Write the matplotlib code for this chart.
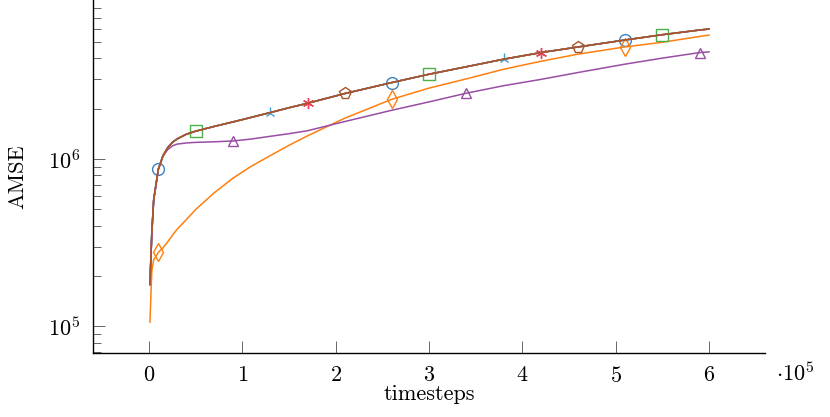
import numpy as np
import matplotlib
matplotlib.use("Agg")
import matplotlib.pyplot as plt
from matplotlib.ticker import FixedLocator, FuncFormatter, LogLocator, NullFormatter

plt.rcParams['font.family'] = 'serif'
plt.rcParams['font.serif'] = ['cmr10', 'DejaVu Serif']
plt.rcParams['mathtext.fontset'] = 'cm'
plt.rcParams['axes.formatter.use_mathtext'] = True
plt.rcParams['font.size'] = 16

timesteps = [1000, 3000, 5000, 10000, 15000, 20000, 25000, 30000, 40000, 50000,
             70000, 90000, 110000, 130000, 150000, 170000, 210000, 260000,
             300000, 340000, 380000, 420000, 460000, 510000, 550000, 590000, 600000]

# the five runs that lie on top of each other
amse_main = [1.78e5, 3.6e5, 5.7e5, 8.7e5, 1.05e6, 1.17e6, 1.26e6, 1.32e6, 1.41e6, 1.47e6,
             1.57e6, 1.67e6, 1.78e6, 1.90e6, 2.03e6, 2.16e6, 2.47e6, 2.87e6,
             3.22e6, 3.57e6, 3.96e6, 4.34e6, 4.69e6, 5.16e6, 5.55e6, 5.92e6, 6.0e6]
amse_triangle = [1.78e5, 3.6e5, 5.7e5, 8.7e5, 1.04e6, 1.14e6, 1.2e6, 1.23e6, 1.25e6, 1.26e6,
                 1.27e6, 1.285e6, 1.32e6, 1.37e6, 1.42e6, 1.48e6, 1.68e6, 1.96e6,
                 2.2e6, 2.48e6, 2.75e6, 3.0e6, 3.3e6, 3.7e6, 4.02e6, 4.34e6, 4.38e6]
amse_diamond = [1.06e5, 2.15e5, 2.5e5, 2.77e5, 2.95e5, 3.2e5, 3.5e5, 3.8e5, 4.35e5, 5.0e5,
                6.3e5, 7.7e5, 9.1e5, 1.05e6, 1.21e6, 1.38e6, 1.76e6, 2.28e6,
                2.66e6, 3.02e6, 3.45e6, 3.85e6, 4.25e6, 4.69e6, 5.0e6, 5.42e6, 5.52e6]

# where each series puts its marks
circle_marks = [10000, 260000, 510000]
diamond_marks = [10000, 260000, 510000]
square_marks = [50000, 300000, 550000]
tri_marks = [130000, 380000]
star_marks = [170000, 420000]
pentagon_marks = [210000, 460000]
triangle_marks = [90000, 340000, 590000]

series = [
    (amse_main, '#3f7fbf', 'o', 8.5, circle_marks),
    (amse_diamond, '#ff7f0e', 'd', 8.8, diamond_marks),
    (amse_main, '#4daf4a', 's', 8.3, square_marks),
    (amse_triangle, '#984ea3', '^', 7.5, triangle_marks),
    (amse_main, '#3aa3d6', '2', 8.0, tri_marks),
    (amse_main, '#e8435a', (6, 2, 0), 8.0, star_marks),
    (amse_main, '#a65628', 'p', 8.5, pentagon_marks),
]

fig = plt.figure(figsize=(8.3, 4.17), dpi=100)
ax = fig.add_axes([93 / 830, 1 - 353 / 417, 672 / 830, 353 / 417])

for values, color, marker, ms, marks in series:
    idx = [timesteps.index(m) for m in marks]
    ax.plot(timesteps, values, color=color, lw=1.1, marker=marker, ms=ms,
            mfc='none', mec=color, mew=1.0, markevery=idx)

ax.set_yscale('log')
ax.set_xlim(-60000, 660000)
ax.set_ylim(6.93e4, 8.95e6)

ax.spines['top'].set_visible(False)
ax.spines['right'].set_visible(False)
ax.spines['left'].set_linewidth(1.0)
ax.spines['bottom'].set_linewidth(1.0)

ax.xaxis.set_major_locator(FixedLocator([0, 100000, 200000, 300000, 400000, 500000, 600000]))
ax.xaxis.set_major_formatter(FuncFormatter(lambda v, p: f'${v / 1e5:g}$'))
ax.yaxis.set_major_locator(LogLocator(base=10))
ax.yaxis.set_minor_locator(LogLocator(base=10, subs=np.arange(2, 10)))
ax.yaxis.set_minor_formatter(NullFormatter())

ax.tick_params(axis='x', which='major', direction='in', length=8.3, width=0.7,
               color='0.4', pad=9)
ax.tick_params(axis='y', which='major', direction='in', length=8.6, width=0.7,
               color='0.4', pad=9)
ax.tick_params(axis='y', which='minor', direction='in', length=5.8, width=0.7,
               color='0.4')

ax.set_xlabel('timesteps')
ax.xaxis.set_label_coords(0.5, -0.09)
ax.set_ylabel('AMSE')
ax.yaxis.set_label_coords(-0.098, 0.5)

ax.text(1.017, -0.0785, r'$\cdot 10^5$', transform=ax.transAxes,
        ha='left', va='baseline')

fig.savefig('out.png', dpi=100)
